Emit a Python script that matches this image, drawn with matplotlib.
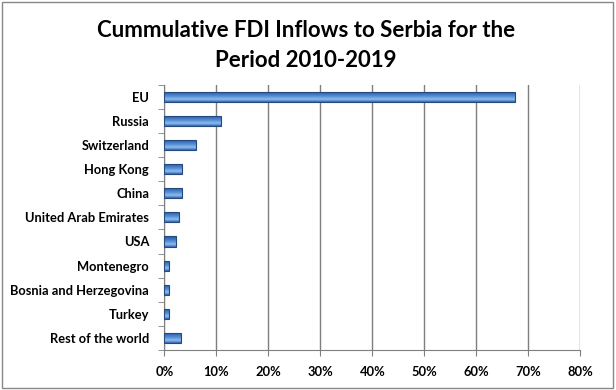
import matplotlib
matplotlib.use('Agg')

import numpy as np
import matplotlib.pyplot as plt
from matplotlib.ticker import PercentFormatter
from matplotlib.patches import Rectangle
from matplotlib.colors import LinearSegmentedColormap

# Datos (% del total acumulado)
paises = ['EU', 'Russia', 'Switzerland', 'Hong Kong', 'China',
          'United Arab Emirates', 'USA', 'Montenegro',
          'Bosnia and Herzegovina', 'Turkey', 'Rest of the world']
valores = [67.4, 10.8, 6.0, 3.3, 3.3, 2.7, 2.3, 0.9, 0.8, 0.8, 3.1]
x_ticks = np.arange(0, 81, 10)

plt.rcParams['font.family'] = ['Lato', 'DejaVu Sans']

fig = plt.figure(figsize=(6.16, 3.9), dpi=100)
ax = fig.add_axes([0.267, 0.103, 0.675, 0.679])

y = np.arange(len(paises))
bars = ax.barh(y, valores, height=0.42, color='none', edgecolor='#24497E',
               linewidth=0.8, zorder=4)

# degradado vertical para imitar el efecto 3D de Excel
cmap = LinearSegmentedColormap.from_list(
    'bar3d', ['#3A66A8', '#8EBDF0', '#5A93D8', '#3C72BC', '#2A5596'])
grad = np.linspace(0, 1, 64).reshape(-1, 1)
for b in bars:
    x0, y0 = b.get_x(), b.get_y()
    w, h = b.get_width(), b.get_height()
    im = ax.imshow(grad, cmap=cmap, aspect='auto', zorder=3,
                   extent=(x0, x0 + w, y0, y0 + h), origin='upper')
    im.set_clip_path(b)

ax.set_xlim(0, 80)
ax.set_ylim(len(paises) - 0.5, -0.5)
ax.set_xticks(x_ticks)
ax.xaxis.set_major_formatter(PercentFormatter(decimals=0))
ax.set_yticks(y)
ax.set_yticklabels(paises)
ax.set_yticks(np.arange(len(paises) + 1) - 0.5, minor=True)
ax.tick_params(axis='y', which='major', length=0, pad=11)
ax.tick_params(axis='y', which='minor', length=4, color='#7F7F7F')
ax.tick_params(axis='x', length=4, color='#7F7F7F', pad=8)
for lbl in ax.get_xticklabels() + ax.get_yticklabels():
    lbl.set_fontweight('bold')
    lbl.set_fontsize(9.3)

ax.grid(axis='x', color='#7F7F7F', linewidth=1, zorder=0)
for s in ['top', 'right']:
    ax.spines[s].set_visible(False)
for s in ['left', 'bottom']:
    ax.spines[s].set_color('#7F7F7F')

fig.text(0.497, 0.883, 'Cummulative FDI Inflows to Serbia for the\nPeriod 2010-2019',
         ha='center', va='center', fontsize=16, fontweight='bold',
         linespacing=1.55)

fig.patches.append(Rectangle((0.003, 0.004), 0.992, 0.99, transform=fig.transFigure,
                             fill=False, edgecolor='#888888', linewidth=1))

fig.savefig('out.png', dpi=100)
